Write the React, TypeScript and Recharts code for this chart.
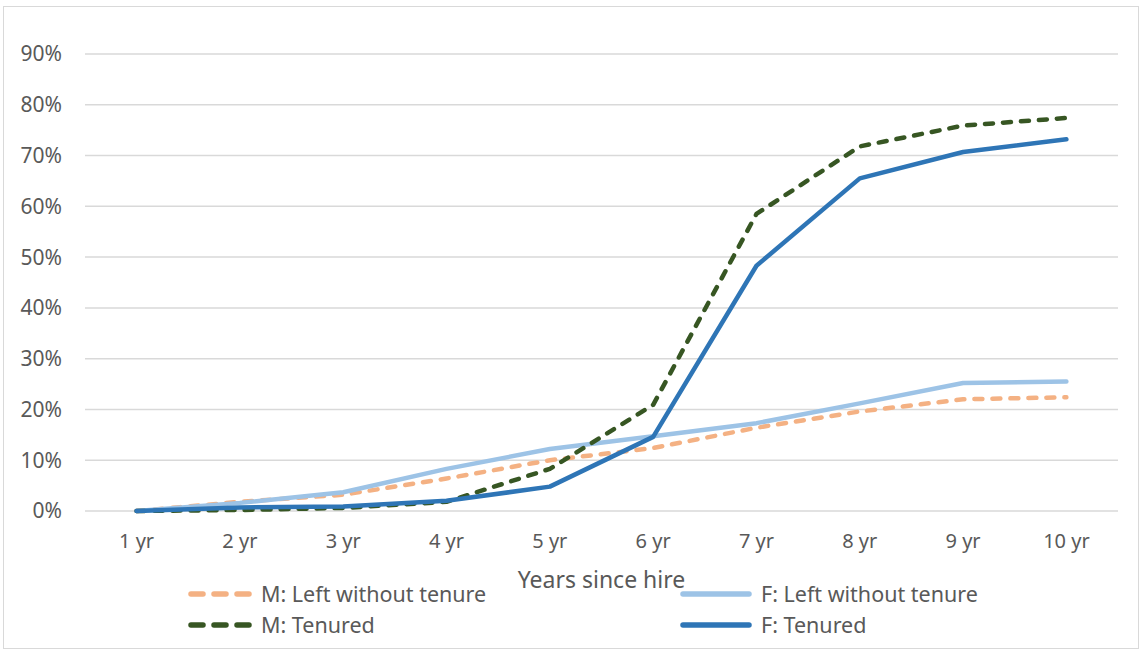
import React from 'react'
import { LineChart, Line, XAxis, YAxis, CartesianGrid, Legend } from 'recharts'

const years = ['1 yr', '2 yr', '3 yr', '4 yr', '5 yr', '6 yr', '7 yr', '8 yr', '9 yr', '10 yr']
const mLeft = [0, 1.8, 3.2, 6.4, 10, 12.4, 16.4, 19.6, 22, 22.4]
const fLeft = [0, 1.6, 3.7, 8.3, 12.2, 14.7, 17.3, 21.2, 25.2, 25.5]
const mTenured = [0, 0.2, 0.6, 1.8, 8.3, 20.9, 58.5, 71.8, 75.9, 77.4]
const fTenured = [0, 0.7, 0.9, 2.0, 4.8, 14.6, 48.3, 65.5, 70.7, 73.2]
const yTicks = [0, 10, 20, 30, 40, 50, 60, 70, 80, 90]

const series = [
  { key: 'mLeft', name: 'M: Left without tenure', color: '#F4B183', dash: '8 10' },
  { key: 'fLeft', name: 'F: Left without tenure', color: '#9DC3E6', dash: undefined },
  { key: 'mTenured', name: 'M: Tenured', color: '#375623', dash: '8 10' },
  { key: 'fTenured', name: 'F: Tenured', color: '#2E75B6', dash: undefined },
]

const data = years.map((year, i) => ({
  year,
  mLeft: mLeft[i],
  fLeft: fLeft[i],
  mTenured: mTenured[i],
  fTenured: fTenured[i],
}))

const FONT = '"Noto Sans", "Open Sans", sans-serif'
const TEXT = '#595959'

// legend slots: [iconLeft, iconRight, centerY]
const slots = [
  [188, 252, 16],
  [680, 752, 16],
  [188, 252, 47],
  [680, 752, 47],
]

function LegendBox() {
  return (
    <div style={{ position: 'relative', width: 1141, height: 64, fontFamily: FONT, fontSize: 21.5, color: TEXT }}>
      {series.map((s, i) => {
        const [x1, x2, cy] = slots[i]
        return (
          <div key={s.key}>
            <svg style={{ position: 'absolute', left: x1, top: cy - 6 }} width={x2 - x1} height={12}>
              <line
                x1={3}
                x2={x2 - x1 - 3}
                y1={6}
                y2={6}
                stroke={s.color}
                strokeWidth={5.5}
                strokeLinecap="round"
                strokeDasharray={s.dash ? '12 11' : undefined}
              />
            </svg>
            <span style={{ position: 'absolute', left: x2 + 9, top: cy - 15, lineHeight: '29px', whiteSpace: 'nowrap' }}>
              {s.name}
            </span>
          </div>
        )
      })}
    </div>
  )
}

export default function App() {
  return (
    <div style={{ position: 'absolute', left: 0, top: 0, width: 1141, height: 651, background: '#fff' }}>
      <div
        style={{
          position: 'absolute',
          left: 3,
          top: 6,
          width: 1134,
          height: 641,
          border: '1px solid #d9d9d9',
        }}
      />
      <LineChart
        width={1141}
        height={651}
        data={data}
        margin={{ top: 54, right: 23, bottom: 36, left: 0 }}
      >
        <CartesianGrid vertical={false} stroke="#d9d9d9" strokeWidth={1.5} />
        <XAxis
          dataKey="year"
          axisLine={false}
          tickLine={false}
          tickSize={0}
          tickMargin={23}
          height={40}
          padding={{ left: 51.6, right: 51.6 }}
          tick={{ fill: TEXT, fontSize: 20, fontFamily: FONT }}
          label={{ value: 'Years since hire', position: 'bottom', offset: 21, fill: TEXT, fontSize: 23, fontFamily: FONT }}
        />
        <YAxis
          domain={[0, 90]}
          ticks={yTicks}
          interval={0}
          axisLine={false}
          tickLine={false}
          tickSize={0}
          tickMargin={23}
          width={85}
          tickFormatter={(v) => `${v}%`}
          tick={{ fill: TEXT, fontSize: 21, fontFamily: FONT }}
        />
        <Legend
          verticalAlign="bottom"
          content={() => <LegendBox />}
          wrapperStyle={{ top: 578, left: 0, width: 1141, height: 64 }}
        />
        {series.map((s) => (
          <Line
            key={s.key}
            type="linear"
            dataKey={s.key}
            name={s.name}
            stroke={s.color}
            strokeWidth={4.5}
            strokeDasharray={s.dash}
            strokeLinecap="round"
            strokeLinejoin="round"
            dot={false}
            activeDot={false}
            isAnimationActive={false}
          />
        ))}
      </LineChart>
    </div>
  )
}
